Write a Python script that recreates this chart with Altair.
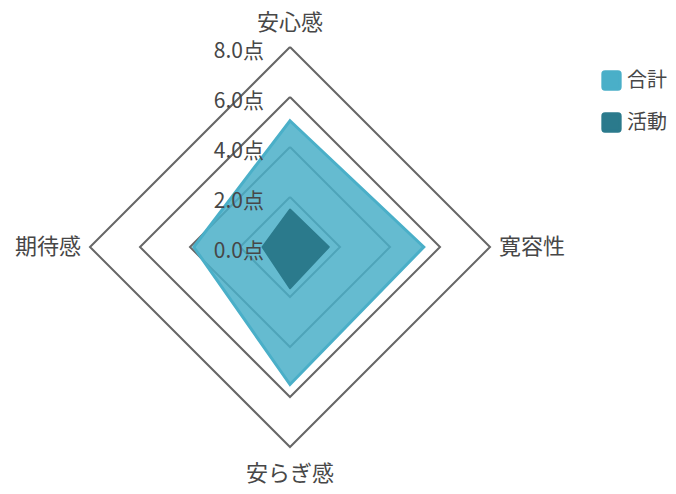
import math
import altair as alt
import pandas as pd

# ---- data ----
axis_names = ["安心感", "寛容性", "安らぎ感", "期待感"]
series_names = ["合計", "活動"]
total_values = [5.05, 5.35, 5.5, 3.85]
activity_values = [1.5, 1.55, 1.65, 1.1]
tick_values = [0, 2, 4, 6, 8]
tick_labels = ["0.0点", "2.0点", "4.0点", "6.0点", "8.0点"]

# ---- styling ----
FONT = "Noto Sans CJK JP"
TEXT_COLOR = "#474747"
GRID_COLOR = "#666666"
FILL_COLORS = ["#4aafc8", "#2b7a8c"]
STROKE_COLORS = ["#4aafc8", "#2b7a8c"]
PAD_L, PAD_T = 0, 10
W, H = 660, 466
PX = 25.0                                   # pixels per unit
CX, CY = 290 - 8 - PAD_L, 247 - 8 - PAD_T   # centre inside plot area

n = len(axis_names)
angles = [2 * math.pi * i / n for i in range(n)]
rmax = max(tick_values)

def pt(v, i):
    return v * math.sin(angles[i]), v * math.cos(angles[i])

rows = []
for name, vals in zip(series_names, [total_values, activity_values]):
    for i in range(n):
        x, y = pt(vals[i], i)
        rows.append({"series": name, "order": i, "x": x, "y": y})
poly = pd.DataFrame(rows)

grows = []
for t in tick_values:
    if t == 0:
        continue
    for k in range(n + 1):
        i = k % n
        x, y = pt(t, i)
        grows.append({"ring": t, "order": k, "x": x, "y": y})
grid = pd.DataFrame(grows)

ticks = pd.DataFrame({"x": [0.0] * len(tick_values), "y": tick_values, "label": tick_labels})

lab_rows = []
for i, name in enumerate(axis_names):
    s = math.sin(angles[i])
    c = math.cos(angles[i])
    if abs(s) > 0.5:
        r = rmax * 1.045
        align = "left" if s > 0 else "right"
    else:
        r = rmax * (1.12 if c > 0 else 1.133)
        align = "center"
    lab_rows.append({"x": s * r, "y": c * r, "label": name, "align": align})
labels = pd.DataFrame(lab_rows)

xs = alt.Scale(domain=[-CX / PX, (W - CX) / PX], nice=False, zero=False)
ys = alt.Scale(domain=[-(H - CY) / PX, CY / PX], nice=False, zero=False)
X = lambda: alt.X("x:Q", scale=xs, axis=None)
Y = lambda: alt.Y("y:Q", scale=ys, axis=None)

grid_layer = alt.Chart(grid).mark_line(color=GRID_COLOR, strokeWidth=2, strokeJoin="miter").encode(
    x=X(), y=Y(), order="order:Q", detail="ring:N"
)

fill_enc = alt.Fill("series:N", scale=alt.Scale(domain=series_names, range=FILL_COLORS),
                    legend=alt.Legend(title=None))
stroke_enc = alt.Stroke("series:N", scale=alt.Scale(domain=series_names, range=STROKE_COLORS),
                        legend=alt.Legend(title=None))

poly_total = alt.Chart(poly).transform_filter(alt.datum.series == series_names[0]).mark_line(
    interpolate="linear-closed", strokeWidth=3, fillOpacity=0.85, strokeJoin="miter"
).encode(x=X(), y=Y(), order="order:Q", fill=fill_enc, stroke=stroke_enc)

poly_act = alt.Chart(poly).transform_filter(alt.datum.series == series_names[1]).mark_line(
    interpolate="linear-closed", strokeWidth=2, fillOpacity=1, strokeJoin="round"
).encode(x=X(), y=Y(), order="order:Q", fill=fill_enc, stroke=stroke_enc)

tick_layer = alt.Chart(ticks).mark_text(
    align="right", baseline="middle", dx=-26, dy=5, font=FONT, fontSize=21, color=TEXT_COLOR
).encode(x=X(), y=Y(), text="label:N")

def label_layer(a):
    return alt.Chart(labels).transform_filter(alt.datum.align == a).mark_text(
        align=a, baseline="middle", font=FONT, fontSize=22, color=TEXT_COLOR
    ).encode(x=X(), y=Y(), text="label:N")

rounded_square = ("M -0.75,-1 L 0.75,-1 Q 1,-1 1,-0.75 L 1,0.75 Q 1,1 0.75,1 "
                  "L -0.75,1 Q -1,1 -1,0.75 L -1,-0.75 Q -1,-1 -0.75,-1 Z")

chart = alt.layer(
    grid_layer, poly_total, poly_act, tick_layer,
    label_layer("center"), label_layer("left"), label_layer("right")
).properties(
    width=W, height=H,
    autosize=alt.AutoSizeParams(type="none"),
    padding={"left": PAD_L, "top": PAD_T, "right": 0, "bottom": 8}
).configure_view(stroke=None).configure_legend(
    orient="none", legendX=593, legendY=52, symbolType=rounded_square, symbolSize=300,
    symbolStrokeWidth=3, labelFont=FONT, labelFontSize=20, labelColor=TEXT_COLOR,
    rowPadding=11, labelOffset=5
)

chart.save("out.html", embed_options={"renderer": "svg", "actions": False})
